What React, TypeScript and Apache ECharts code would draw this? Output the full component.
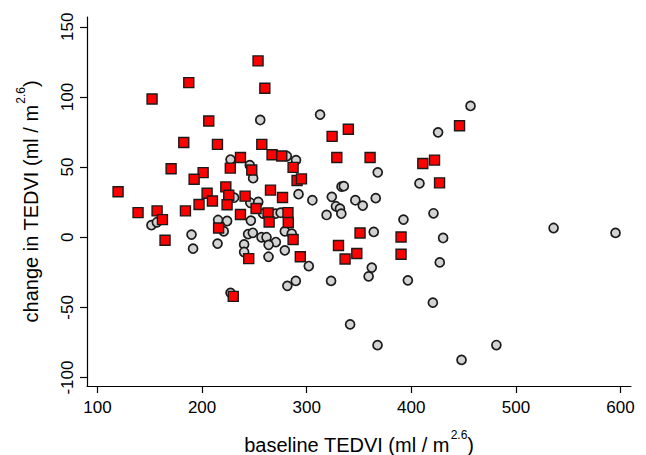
import React, { useEffect, useRef } from "react";
import * as echarts from "echarts";

// Grey circles (group 1): baseline TEDVI vs change in TEDVI
const circleX = [255.6, 227.2, 245.6, 248.8, 281.0, 289.8, 292.2, 230.6, 246.1, 253.7, 305.4, 258.3, 270.2, 275.1, 151.6, 156.8, 246.6, 215.3, 223.9, 220.7, 189.9, 191.4, 214.8, 244.0, 248.5, 256.8, 261.6, 270.5, 263.6, 240.2, 240.2, 279.1, 285.7, 279.1, 263.5, 302.0, 281.5, 289.6, 227.2, 312.8, 367.9, 333.3, 335.5, 324.0, 346.5, 353.6, 366.0, 328.0, 331.8, 333.1, 319.0, 364.1, 362.2, 359.2, 323.3, 456.6, 425.6, 407.8, 421.2, 392.5, 430.4, 427.2, 396.7, 420.6, 341.5, 367.7, 481.3, 448.0, 536.0, 595.2];
const circleY = [83.6, 55.4, 51.4, 42.1, 57.9, 55.0, 30.7, 28.2, 24.6, 25.2, 26.4, 16.9, 16.9, 17.5, 8.6, 10.7, 11.9, 12.3, 11.6, 4.3, 1.9, -8.1, -4.5, 2.3, 3.2, 0.0, 0.0, -3.4, -5.4, -5.1, -10.5, 4.3, 2.6, -9.3, -13.9, -20.5, -34.6, -31.1, -39.6, 87.4, 46.2, 36.1, 36.4, 28.8, 26.4, 22.6, 27.9, 22.1, 20.4, 16.8, 15.9, 3.8, -21.6, -27.9, -31.1, 93.6, 74.8, 38.4, 17.1, 12.6, -0.5, -17.9, -30.7, -46.6, -62.1, -76.9, -76.8, -87.4, 6.6, 3.1];

// Red squares (group 2)
const squareX = [253.5, 187.3, 260.0, 152.2, 206.4, 182.5, 214.7, 257.1, 236.7, 266.9, 276.2, 227.0, 247.5, 287.0, 290.8, 295.0, 170.4, 201.0, 192.4, 119.7, 222.7, 204.8, 225.5, 241.1, 265.4, 276.9, 209.9, 197.1, 223.9, 251.6, 138.8, 157.0, 162.1, 184.1, 236.7, 263.1, 282.1, 264.1, 282.4, 215.8, 164.6, 287.0, 244.6, 293.9, 229.8, 324.3, 339.8, 328.8, 360.6, 351.0, 330.4, 336.7, 347.9, 446.1, 411.0, 422.2, 427.0, 390.2, 390.2];
const squareY = [125.7, 110.2, 106.2, 98.6, 82.9, 67.6, 66.2, 66.2, 56.9, 58.8, 57.9, 49.3, 47.9, 49.8, 40.5, 41.6, 48.8, 46.1, 41.4, 32.4, 35.9, 31.4, 30.0, 29.3, 33.6, 28.4, 25.9, 23.4, 23.2, 20.5, 17.6, 18.8, 12.6, 18.8, 16.2, 17.4, 17.6, 10.9, 10.5, 6.6, -2.1, -1.6, -15.2, -13.9, -42.1, 71.9, 77.0, 56.9, 56.9, 3.1, -5.9, -15.5, -11.6, 79.5, 52.6, 55.0, 38.8, 0.2, -12.1];

const xTicks = [100, 200, 300, 400, 500, 600];
const yTicks = [-100, -50, 0, 50, 100, 150];

const FONT = "Liberation Sans, Arial, sans-serif";

export default function App() {
  const ref = useRef<HTMLDivElement>(null);
  useEffect(() => {
    if (!ref.current) return;
    const chart = echarts.init(ref.current, null, { renderer: "svg" });
    const circles = circleX.map((x, i) => [x, circleY[i]]);
    const squares = squareX.map((x, i) => [x, squareY[i]]);
    const axisCommon = {
      axisLine: { show: true, onZero: false, lineStyle: { color: "#000", width: 1.2 } },
      axisTick: { show: true, length: 7, lineStyle: { color: "#000", width: 1.2 } },
      splitLine: { show: false },
    };
    const rich = {
      b: { fontSize: 20, color: "#000", fontFamily: FONT, verticalAlign: "bottom", lineHeight: 26 },
      sup: { fontSize: 12, color: "#000", fontFamily: FONT, verticalAlign: "top", lineHeight: 14, padding: [0, 0, 0, 1] },
    };
    chart.setOption({
      animation: false,
      backgroundColor: "#fff",
      grid: { left: 87, top: 17, right: 15, bottom: 69, containLabel: false, outerBoundsMode: "none" },
      xAxis: {
        type: "value",
        min: 90,
        max: 610,
        ...axisCommon,
        axisTick: { ...axisCommon.axisTick, customValues: xTicks },
        axisLabel: {
          customValues: xTicks,
          margin: 13,
          fontSize: 17,
          color: "#000",
          fontFamily: FONT,
        },
        name: "{b|baseline TEDVI (ml / m}{sup|2.6}{b|)}",
        nameLocation: "middle",
        nameGap: 43,
        nameTextStyle: { fontSize: 20, color: "#000", fontFamily: FONT, rich },
      },
      yAxis: {
        type: "value",
        min: -106,
        max: 157,
        ...axisCommon,
        axisTick: { ...axisCommon.axisTick, customValues: yTicks },
        axisLabel: {
          customValues: yTicks,
          rotate: 90,
          margin: 11,
          fontSize: 17,
          color: "#000",
          fontFamily: FONT,
        },
        name: "{b|change in TEDVI (ml / m}{sup|2.6}{b|)}",
        nameLocation: "middle",
        nameGap: 46,
        nameRotate: 90,
        nameTextStyle: { fontSize: 20, color: "#000", fontFamily: FONT, rich },
      },
      series: [
        {
          name: "Group 1",
          type: "scatter",
          data: circles,
          symbol: "circle",
          symbolSize: 9,
          itemStyle: { color: "#d3d3d3", borderColor: "#1a1a1a", borderWidth: 1.7, opacity: 1 },
        },
        {
          name: "Group 2",
          type: "scatter",
          data: squares,
          symbol: "rect",
          symbolSize: 10,
          itemStyle: { color: "#ff0000", borderColor: "#1a1a1a", borderWidth: 1.4, opacity: 1 },
        },
      ],
    });
    return () => chart.dispose();
  }, []);
  return (
    <div
      ref={ref}
      style={{ position: "fixed", left: 0, top: 0, width: 646, height: 455 }}
    />
  );
}
